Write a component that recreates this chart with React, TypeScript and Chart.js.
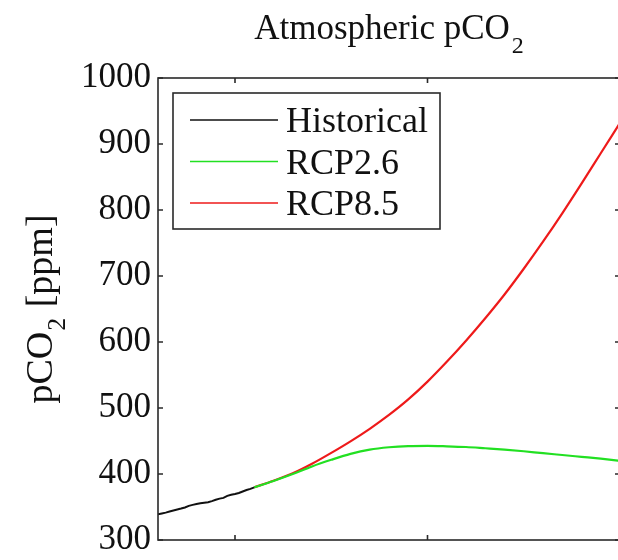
import React, { useEffect, useRef } from "react";
import { Chart, registerables } from "chart.js";

Chart.register(...registerables);

// ---- data ----
const histYears = [1980, 1981, 1982, 1983, 1984, 1985, 1986, 1987, 1988, 1989, 1990, 1991, 1992, 1993, 1994, 1995, 1996, 1997, 1998, 1999, 2000, 2001, 2002, 2003, 2004, 2005];
const histValues = [338.8, 340.1, 341.5, 343.1, 344.7, 346.1, 347.6, 349.3, 351.7, 353.2, 354.4, 355.7, 356.5, 357.2, 358.9, 360.9, 362.7, 363.8, 366.8, 368.5, 369.7, 371.3, 373.5, 375.8, 377.5, 379.8];
const rcpYears = [2005, 2010, 2015, 2020, 2025, 2030, 2035, 2040, 2045, 2050, 2055, 2060, 2065, 2070, 2075, 2080, 2085, 2090, 2095, 2100];
const rcp26Values = [379.8, 389.5, 400.0, 411.5, 421.5, 430.5, 437.0, 440.5, 442.3, 442.7, 442.0, 440.9, 439.0, 437.0, 434.5, 431.5, 428.8, 426.0, 423.2, 420.0];
const rcp85Values = [379.8, 389.8, 401.0, 415.5, 432.0, 449.5, 468.5, 489.5, 513.0, 540.0, 570.0, 602.0, 636.0, 672.0, 711.0, 752.0, 795.0, 840.0, 886.0, 932.0];
const seriesLabels = ["Historical", "RCP2.6", "RCP8.5"];
const xTicks = [2000, 2050, 2100];
const yTicks = [300, 400, 500, 600, 700, 800, 900, 1000];

const FONT = "'Liberation Serif', 'Times New Roman', serif";

const toPoints = (xs: number[], ys: number[]) => xs.map((x, i) => ({ x, y: ys[i] }));

const framePlugin = {
  id: "frameAndDecor",
  afterDatasetsDraw(chart: any) {
    const { ctx, chartArea } = chart;
    const { left, right, top, bottom } = chartArea;
    const xs = chart.scales.x;
    const ys = chart.scales.y;
    ctx.save();
    // frame
    ctx.strokeStyle = "#2a2a2a";
    ctx.lineWidth = 1.6;
    ctx.strokeRect(left, top, right - left, bottom - top);
    // inward ticks
    const tl = 5;
    ctx.beginPath();
    xTicks.forEach((v) => {
      const px = xs.getPixelForValue(v);
      ctx.moveTo(px, bottom);
      ctx.lineTo(px, bottom - tl);
      ctx.moveTo(px, top);
      ctx.lineTo(px, top + tl);
    });
    yTicks.forEach((v) => {
      const py = ys.getPixelForValue(v);
      ctx.moveTo(left, py);
      ctx.lineTo(left + tl, py);
      ctx.moveTo(right, py);
      ctx.lineTo(right - tl, py);
    });
    ctx.stroke();

    // legend box
    const bx = left + 15;
    const by = top + 15;
    const bw = 267;
    const bh = 136;
    ctx.fillStyle = "#ffffff";
    ctx.fillRect(bx, by, bw, bh);
    ctx.strokeStyle = "#2a2a2a";
    ctx.lineWidth = 1.6;
    ctx.strokeRect(bx, by, bw, bh);
    ctx.font = `36px ${FONT}`;
    ctx.textBaseline = "alphabetic";
    ctx.textAlign = "left";
    chart.data.datasets.forEach((ds: any, i: number) => {
      const ly = by + 27 + i * 41.5;
      ctx.strokeStyle = ds.borderColor;
      ctx.lineWidth = 1.6;
      ctx.beginPath();
      ctx.moveTo(bx + 17, ly);
      ctx.lineTo(bx + 105, ly);
      ctx.stroke();
      ctx.fillStyle = "#111111";
      ctx.fillText(ds.label, bx + 113, ly + 12);
    });

    // title with subscript
    ctx.fillStyle = "#111111";
    const cx = (left + right) / 2;
    const main = "Atmospheric pCO";
    ctx.font = `35px ${FONT}`;
    const mw = ctx.measureText(main).width;
    ctx.font = `24px ${FONT}`;
    const sw = ctx.measureText("2").width;
    const tx = cx - (mw + sw + 2) / 2;
    ctx.font = `35px ${FONT}`;
    ctx.fillText(main, tx, 39);
    ctx.font = `24px ${FONT}`;
    ctx.fillText("2", tx + mw + 2, 53);

    // y-axis title rotated
    ctx.save();
    ctx.translate(52, (top + bottom) / 2);
    ctx.rotate(-Math.PI / 2);
    const p1 = "pCO";
    const p2 = " [ppm]";
    ctx.font = `38px ${FONT}`;
    const w1 = ctx.measureText(p1).width;
    const w2 = ctx.measureText(p2).width;
    ctx.font = `26px ${FONT}`;
    const ws = ctx.measureText("2").width;
    const total = w1 + ws + 2 + w2;
    let x0 = -total / 2;
    ctx.font = `38px ${FONT}`;
    ctx.fillText(p1, x0, 0);
    x0 += w1 + 1;
    ctx.font = `26px ${FONT}`;
    ctx.fillText("2", x0, 13);
    x0 += ws + 1;
    ctx.font = `38px ${FONT}`;
    ctx.fillText(p2, x0, 0);
    ctx.restore();

    ctx.restore();
  },
};

export default function App() {
  const ref = useRef<HTMLCanvasElement | null>(null);
  useEffect(() => {
    if (!ref.current) return;
    const chart = new Chart(ref.current, {
      type: "line",
      data: {
        datasets: [
          {
            label: seriesLabels[0],
            data: toPoints(histYears, histValues),
            borderColor: "#111111",
            borderWidth: 2,
            pointRadius: 0,
            tension: 0,
          },
          {
            label: seriesLabels[1],
            data: toPoints(rcpYears, rcp26Values),
            borderColor: "#22e022",
            borderWidth: 2.2,
            pointRadius: 0,
            cubicInterpolationMode: "monotone",
          },
          {
            label: seriesLabels[2],
            data: toPoints(rcpYears, rcp85Values),
            borderColor: "#ee1a1a",
            borderWidth: 2.2,
            pointRadius: 0,
            cubicInterpolationMode: "monotone",
          },
        ],
      },
      options: {
        animation: false,
        responsive: false,
        maintainAspectRatio: false,
        layout: { padding: { left: 0, right: 2, top: 78, bottom: 20 } },
        plugins: {
          legend: { display: false },
          title: { display: false },
          tooltip: { enabled: false },
        },
        scales: {
          x: {
            type: "linear",
            min: 1980,
            max: 2100,
            display: false,
          },
          y: {
            type: "linear",
            min: 300,
            max: 1000,
            afterBuildTicks(scale: any) {
              scale.ticks = yTicks.map((v) => ({ value: v }));
            },
            afterFit(scale: any) {
              scale.width = 158;
              scale.paddingTop = 0;
              scale.paddingBottom = 0;
            },
            grid: { display: false, drawTicks: false },
            border: { display: false },
            ticks: {
              padding: 7,
              color: "#111111",
              font: { family: FONT, size: 35 },
              callback: (v: any) => String(v),
            },
          },
        },
      },
      plugins: [framePlugin],
    });
    return () => chart.destroy();
  }, []);
  return (
    <div style={{ position: "fixed", left: 0, top: 0, width: 622, height: 560, background: "#fff" }}>
      <canvas ref={ref} width={622} height={560} style={{ display: "block" }} />
    </div>
  );
}
